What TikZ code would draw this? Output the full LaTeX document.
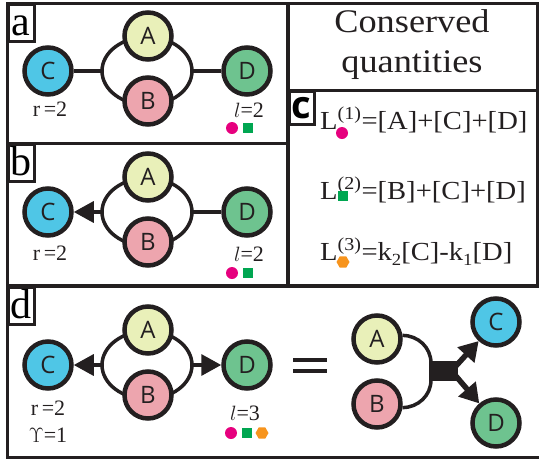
\documentclass[tikz,border=0pt]{standalone}
\usepackage{fontspec}
\setmainfont{Liberation Serif}
\newfontfamily\nodefont{Open Sans}
\newfontfamily\lawfont[FakeStretch=1.1]{Liberation Serif}
\usetikzlibrary{arrows.meta, shapes.geometric, calc}
\definecolor{ink}{HTML}{231F20}
\definecolor{specA}{HTML}{E9F0B9}
\definecolor{specB}{HTML}{EDA5AE}
\definecolor{specC}{HTML}{4FC6E6}
\definecolor{specD}{HTML}{6EC38F}
\definecolor{lawone}{HTML}{E6007E}
\definecolor{lawtwo}{HTML}{00A651}
\definecolor{lawthree}{HTML}{F7941D}
% one copy of the A+B <-> C+D network, #1 = prefix, #2 = height of the C--D axis
\newcommand*{\crn}[2]{%
  \draw[link] (147,#2) ellipse [x radius=45, y radius=34];
  \coordinate (#1L) at (102,#2);
  \coordinate (#1R) at (192,#2);
  \node[species, fill=specC] (#1C) at (48,#2) {C};
  \node[species, fill=specA] (#1A) at (148,#2-35) {A};
  \node[species, fill=specB] (#1B) at (148,#2+30) {B};
  \node[species, fill=specD] (#1D) at (247,#2) {D};
}

\begin{document}
\begin{tikzpicture}[x=1pt, y=-1pt,
    panel/.style   = {draw=ink, line width=3pt},
    tag/.style     = {draw=ink, line width=2.5pt, fill=white, anchor=north west,
                      inner sep=0pt, minimum width=26pt, text height=31pt,
                      text depth=6pt, font=\fontsize{42}{42}\selectfont},
    species/.style = {circle, draw=ink, line width=4.5pt, minimum size=47pt,
                      inner sep=0pt, text=ink, font=\nodefont\fontsize{24}{24}\selectfont},
    link/.style    = {draw=ink, line width=3.5pt},
    react/.style   = {link, -{Triangle[length=20pt, width=21pt]}},
    bigreact/.style= {draw=ink, line width=5.5pt, -{Triangle[length=19pt, width=22pt]}},
    note/.style    = {anchor=base, inner sep=0pt, text=ink,
                      font=\fontsize{22}{22}\selectfont},
    law/.style     = {anchor=base west, inner sep=0pt, text=ink,
                      font=\lawfont\fontsize{26}{26}\selectfont},
    lawdot/.style  = {circle, fill=lawone, minimum size=12pt, inner sep=0pt},
    lawsq/.style   = {rectangle, fill=lawtwo, minimum size=9.5pt, inner sep=0pt},
    lawhex/.style  = {regular polygon, regular polygon sides=6, fill=lawthree,
                      minimum size=13pt, inner sep=0pt},
  ]
  \useasboundingbox (0,0) rectangle (539,461);

  % frames
  \draw[panel] (7,3) rectangle (287,143);
  \draw[panel] (7,143) rectangle (287,285);
  \draw[panel] (288,3) rectangle (537,285);
  \draw[panel] (288,90) -- (537,90);
  \draw[panel] (548,286) -- (7,286) -- (7,457) -- (548,457);

  % a
  \crn{a}{71}
  \draw[link] (aC) -- (aL);
  \draw[link] (aR) -- (aD);
  \node[note] (ar) at (50,116) {r\,=2};
  \node[note] (al) at (249,117) {$l$=2};
  \node[lawdot] (a1) at (232,128) {};
  \node[lawsq] (a2) at (248,128) {};

  % b
  \crn{b}{212}
  \draw[react] (bL) -- (bC);
  \draw[link] (bR) -- (bD);
  \node[note] (br) at (50,260) {r\,=2};
  \node[note] (bl) at (249,261) {$l$=2};
  \node[lawdot] (b1) at (232,273) {};
  \node[lawsq] (b2) at (248,273) {};

  % c
  \node[font=\lawfont\fontsize{33}{40}\selectfont, align=center, text=ink] (title) at (412,45)
    {Conserved\\quantities};
  \node[law] (eq1) at (320,129) {L\textsuperscript{(1)}=[A]+[C]+[D]};
  \node[law] (eq2) at (320,199) {L\textsuperscript{(2)}=[B]+[C]+[D]};
  \node[law] (eq3) at (320,260) {L\textsuperscript{(3)}=k\raisebox{-5pt}{\fontsize{17}{17}\selectfont 2}[C]-k\raisebox{-5pt}{\fontsize{17}{17}\selectfont 1}[D]};
  \node[lawdot] (c1) at (342,133) {};
  \node[lawsq] (c2) at (343,196) {};
  \node[lawhex] (c3) at (343,262) {};

  % d
  \crn{d}{365}
  \draw[react] (dL) -- (dC);
  \draw[react] (dR) -- (dD);
  \node[note] (dr) at (48,415) {r\,=2};
  \node[note] (dg) at (48,442) {$\Upsilon$=1};
  \node[note] (dl) at (245,420) {$l$=3};
  \node[lawdot] (d1) at (231,433) {};
  \node[lawsq] (d2) at (247,433) {};
  \node[lawhex] (d3) at (262,433) {};

  \draw[link, line width=4pt] (293,360) -- (327,360) (293,371) -- (327,371);

  \node[species, fill=specA] (eA) at (377,339) {A};
  \node[species, fill=specB] (eB) at (377,404) {B};
  \node[species, fill=specC] (eC) at (496,322) {C};
  \node[species, fill=specD] (eD) at (496,423) {D};
  \coordinate (jt) at (431,363);
  \coordinate (jb) at (431,380);
  \coordinate (jc) at (455,367);
  \coordinate (jd) at (455,375);
  \draw[link] (eA.8) to[out=0, in=90] (jt);
  \draw[link] (eB.-8) to[out=0, in=-90] (jb);
  \fill[ink] (429,361) rectangle (458,381);
  \draw[bigreact] (jc) -- (eC);
  \draw[bigreact] (jd) -- (eD);

  % labels on top of the frames
  \node[tag] (la) at (7,3) {a};
  \node[tag] (lb) at (7,143) {b};
  \node[tag, minimum width=25pt, text height=27pt, text depth=6pt,
        font=\nodefont\bfseries\fontsize{38}{38}\selectfont] (lc) at (288,90) {c};
  \node[tag] (ld) at (7,286) {d};
\end{tikzpicture}
\end{document}
